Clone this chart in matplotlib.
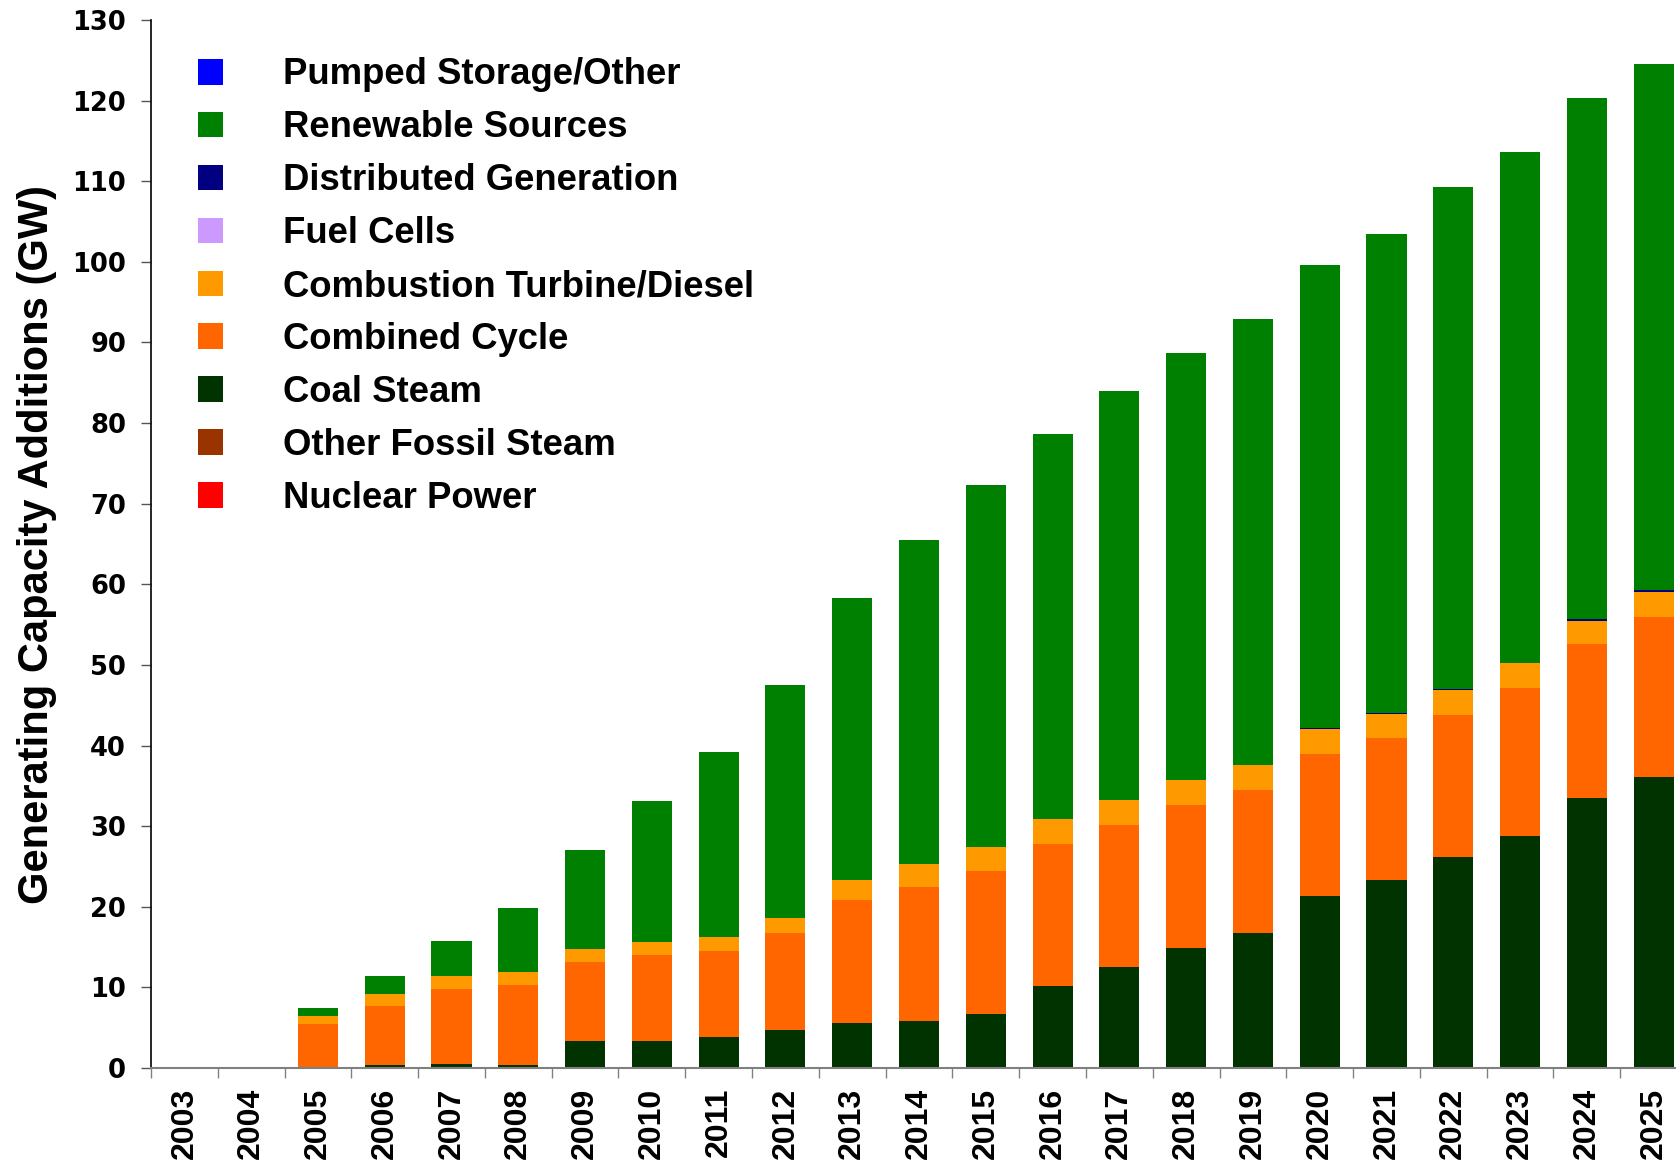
import numpy as np
import matplotlib
matplotlib.use("Agg")
import matplotlib.pyplot as plt
from matplotlib.patches import Patch

years = [str(y) for y in range(2003, 2026)]

# capacity additions by technology (GW), each list is one stacked segment
nuclear = [0.0] * 23
other_fossil = [0.0] * 23
coal = [0, 0, 0.12, 0.33, 0.45, 0.33, 3.3, 3.3, 3.8, 4.67, 5.6, 5.8,
        6.7, 10.2, 12.5, 14.9, 16.7, 21.3, 23.3, 26.2, 28.8, 33.5, 36.1]
combined_cycle = [0, 0, 5.38, 7.31, 9.3, 9.92, 9.8, 10.7, 10.7, 12.03, 15.2, 16.6,
                  17.7, 17.6, 17.6, 17.7, 17.8, 17.6, 17.6, 17.6, 18.3, 19.1, 19.9]
combustion_turbine = [0, 0, 0.9, 1.49, 1.61, 1.61, 1.6, 1.6, 1.7, 1.85, 2.5, 2.9,
                      3.0, 3.1, 3.1, 3.1, 3.1, 3.1, 3.0, 3.1, 3.1, 2.9, 3.1]
fuel_cells = [0.0] * 23
distributed = [0] * 17 + [0.15, 0.15, 0.1, 0.1, 0.25, 0.25]
renewables = [0, 0, 1.0, 2.27, 4.44, 8.04, 12.4, 17.5, 23.0, 28.95, 35.0, 40.2,
              44.9, 47.8, 50.8, 53.0, 55.3, 57.45, 59.35, 62.3, 63.3, 64.55, 65.15]
pumped_storage = [0.0] * 23

series = [
    ("Nuclear Power", nuclear, "#FF0000"),
    ("Other Fossil Steam", other_fossil, "#993300"),
    ("Coal Steam", coal, "#003300"),
    ("Combined Cycle", combined_cycle, "#FF6600"),
    ("Combustion Turbine/Diesel", combustion_turbine, "#FF9900"),
    ("Fuel Cells", fuel_cells, "#CC99FF"),
    ("Distributed Generation", distributed, "#000080"),
    ("Renewable Sources", renewables, "#008000"),
    ("Pumped Storage/Other", pumped_storage, "#0000FF"),
]

bold = ["Liberation Sans", "DejaVu Sans"]

fig = plt.figure(figsize=(16.76, 11.64), dpi=100)
ax = fig.add_axes([151 / 1676, 96 / 1164, 1536 / 1676, 1048 / 1164])

x = np.arange(len(years))
bottom = np.zeros(len(years))
for name, vals, col in series:
    vals = np.array(vals, dtype=float)
    ax.bar(x, vals, width=0.6, bottom=bottom, color=col, linewidth=0)
    bottom += vals

ax.set_xlim(-0.5, len(years) - 0.5)
ax.set_ylim(0, 130)
ax.set_yticks(range(0, 131, 10))
ax.set_yticklabels([str(v) for v in range(0, 131, 10)],
                   family="DejaVu Sans", fontweight="bold", fontsize=18.5)
ax.tick_params(axis="y", direction="out", length=7, width=1, color="#555555", pad=11)

# category boundaries carry the tick marks, labels sit under each bar
ax.set_xticks(np.arange(-0.5, len(years), 1.0))
ax.set_xticklabels([])
ax.set_xticks(x, minor=True)
ax.set_xticklabels(years, minor=True, rotation=90, family=bold,
                   fontweight="bold", fontsize=23)
ax.tick_params(axis="x", which="major", direction="out", length=7, width=1, color="#808080")
ax.tick_params(axis="x", which="minor", length=0, pad=14)

for s in ["top", "right"]:
    ax.spines[s].set_visible(False)
ax.spines["left"].set_color("black")
ax.spines["left"].set_linewidth(1.2)
ax.spines["bottom"].set_color("#808080")
ax.spines["bottom"].set_linewidth(1.5)

ax.set_ylabel("Generating Capacity Additions (GW)", family=bold,
              fontweight="bold", fontsize=30)
ax.yaxis.set_label_coords(-0.0612, 0.5)

handles = [Patch(facecolor=col, edgecolor="none", label=name) for name, vals, col in series[::-1]]
ax.legend(handles=handles, loc="upper left",
          bbox_to_anchor=(197.5 / 1676, 1 - 57.5 / 1164), bbox_transform=fig.transFigure,
          frameon=False, borderpad=0, borderaxespad=0,
          handlelength=0.7, handleheight=0.7, handletextpad=1.65, labelspacing=0.49,
          prop={"family": bold, "weight": "bold", "size": 26.3})

fig.savefig("out.png", dpi=100)
